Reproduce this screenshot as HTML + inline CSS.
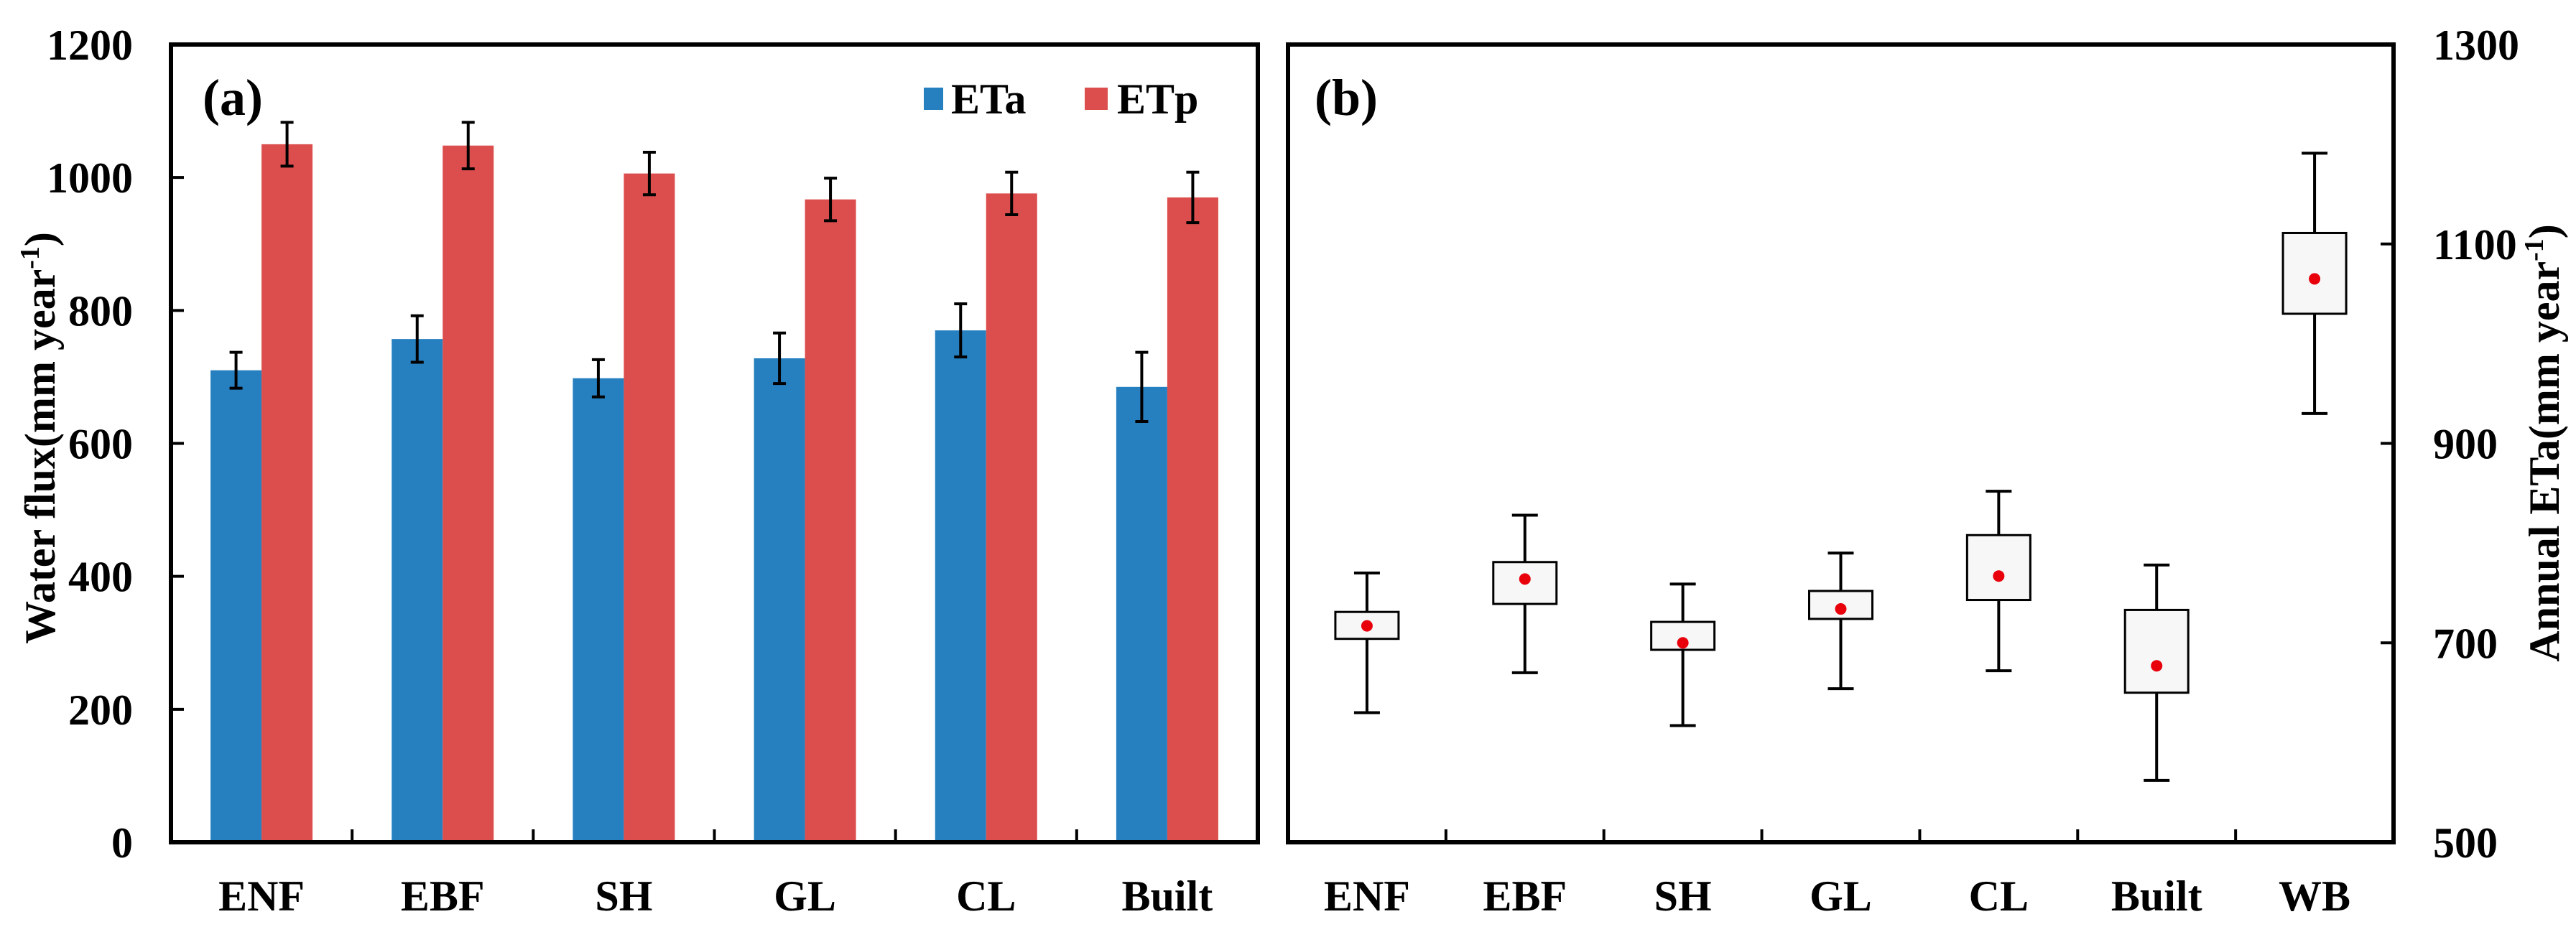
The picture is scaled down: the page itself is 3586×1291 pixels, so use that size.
<!DOCTYPE html>
<html><head><meta charset="utf-8"><style>
html,body{margin:0;padding:0;background:#fff;}
svg{display:block;}
svg text{font-family:"Liberation Serif","Times New Roman","DejaVu Serif",serif !important;font-weight:bold;}
</style></head><body>
<svg id="chart" width="3586" height="1291" viewBox="0 0 3586 1291" xmlns="http://www.w3.org/2000/svg" font-family="Liberation Serif, serif" font-weight="bold">
<g id="pa"></g>
<g id="pb"></g>
</svg>
<script>
const categoriesA = ["ENF","EBF","SH","GL","CL","Built"];
const etaValues = [710,757,698,728,770,685];
const etaErrors = [27,35,28,38,40,52];
const etpValues = [1050,1048,1006,967,976,970];
const etpErrors = [33,35,32,32,32,38];
const ticksA = [0,200,400,600,800,1000,1200];

const categoriesB = ["ENF","EBF","SH","GL","CL","Built","WB"];
const whiskerHigh = [770,828,759,790,852,778,1191];
const boxTop = [731,781,721,752,808,733,1111];
const boxBottom = [704,739,693,724,743,650,1030];
const meanVals = [717,764,700,734,767,677,1065];
const whiskerLow = [630,670,617,654,672,562,930];
const ticksB = [500,700,900,1100,1300];

const NS="http://www.w3.org/2000/svg";
function mk(parent,tag,attrs,text){const e=document.createElementNS(NS,tag);for(const k in attrs)e.setAttribute(k,attrs[k]);if(tag==='text')e.setAttribute('font-family','Liberation Serif, serif');if(text!==undefined)e.textContent=text;parent.appendChild(e);return e;}

// Panel A
const pa=document.getElementById('pa');
const A={l:238,r:1751,t:62,b:1173,min:0,max:1200};
const yA=v=>A.b-(v-A.min)/(A.max-A.min)*(A.b-A.t);
const cw=(A.r-A.l)/categoriesA.length;
const xA=i=>A.l+cw*(i+0.5);
const bw=71;
categoriesA.forEach((c,i)=>{
  const cx=xA(i);
  let r=mk(pa,'rect',{x:cx-bw,y:yA(etaValues[i]),width:bw,height:yA(0)-yA(etaValues[i]),fill:'#2680c0'});
  
  
  r=mk(pa,'rect',{x:cx,y:yA(etpValues[i]),width:bw,height:yA(0)-yA(etpValues[i]),fill:'#dc4e4d'});
  
  
  [[cx-bw/2,etaValues[i],etaErrors[i],'eta'],[cx+bw/2,etpValues[i],etpErrors[i],'etp']].forEach(([x,v,e,n])=>{
    const g=mk(pa,'g',{stroke:'#000','stroke-width':4});
    
    
    mk(g,'line',{x1:x,x2:x,y1:yA(v+e),y2:yA(v-e)});
    mk(g,'line',{x1:x-9,x2:x+9,y1:yA(v+e),y2:yA(v+e)});
    mk(g,'line',{x1:x-9,x2:x+9,y1:yA(v-e),y2:yA(v-e)});
  });
  const t=mk(pa,'text',{x:cx,y:1268,'font-size':60,'text-anchor':'middle'},c);
  
  
  if(i>0){const tk=mk(pa,'line',{x1:A.l+cw*i,x2:A.l+cw*i,y1:A.b,y2:A.b-18,stroke:'#000','stroke-width':4});
    
    }
});
ticksA.forEach(v=>{
  const t=mk(pa,'text',{x:185,y:yA(v)+21,'font-size':60,'text-anchor':'end'},String(v));
  
  
  if(v>0&&v<1200){const tk=mk(pa,'line',{x1:A.l,x2:A.l+18,y1:yA(v),y2:yA(v),stroke:'#000','stroke-width':4});
    
    }
});
let fr=mk(pa,'rect',{x:A.l,y:A.t,width:A.r-A.l,height:A.b-A.t,fill:'none',stroke:'#000','stroke-width':6});


let tt=mk(pa,'text',{x:282,y:160,'font-size':72},'(a)');


let yt=mk(pa,'text',{transform:'translate(76,610) rotate(-90)','font-size':60,'text-anchor':'middle'});


yt.innerHTML='Water flux(mm year<tspan font-size="38" dy="-22">-1</tspan><tspan dy="22">)</tspan>';
let lg=mk(pa,'g',{});


let le=mk(lg,'g',{});


mk(le,'rect',{x:1286,y:122,width:27,height:31,fill:'#2680c0'});
mk(le,'text',{x:1324,y:158,'font-size':60},'ETa');
let le2=mk(lg,'g',{});


mk(le2,'rect',{x:1510,y:122,width:32,height:31,fill:'#dc4e4d'});
mk(le2,'text',{x:1555,y:158,'font-size':60},'ETp');

// Panel B
const pb=document.getElementById('pb');
const B={l:1793,r:3332,t:62,b:1173,min:500,max:1300};
const yB=v=>B.b-(v-B.min)/(B.max-B.min)*(B.b-B.t);
const cwb=(B.r-B.l)/categoriesB.length;
const xB=i=>B.l+cwb*(i+0.5);
categoriesB.forEach((c,i)=>{
  const cx=xB(i);
  const g=mk(pb,'g',{stroke:'#000','stroke-width':4});
  
  
  mk(g,'line',{x1:cx,x2:cx,y1:yB(whiskerHigh[i]),y2:yB(boxTop[i])});
  mk(g,'line',{x1:cx,x2:cx,y1:yB(boxBottom[i]),y2:yB(whiskerLow[i])});
  mk(g,'line',{x1:cx-18,x2:cx+18,y1:yB(whiskerHigh[i]),y2:yB(whiskerHigh[i])});
  mk(g,'line',{x1:cx-18,x2:cx+18,y1:yB(whiskerLow[i]),y2:yB(whiskerLow[i])});
  mk(g,'rect',{x:cx-44,y:yB(boxTop[i]),width:88,height:yB(boxBottom[i])-yB(boxTop[i]),fill:'#f7f7f7','stroke-width':3});
  const m=mk(pb,'circle',{cx:cx,cy:yB(meanVals[i]),r:8,fill:'#e8000b'});
  
  
  const t=mk(pb,'text',{x:cx,y:1268,'font-size':60,'text-anchor':'middle'},c);
  
  
  if(i>0){const tk=mk(pb,'line',{x1:B.l+cwb*i,x2:B.l+cwb*i,y1:B.b,y2:B.b-18,stroke:'#000','stroke-width':4});
    
    }
});
ticksB.forEach(v=>{
  const t=mk(pb,'text',{x:3387,y:yB(v)+21,'font-size':60},String(v));
  
  
  if(v>500&&v<1300){const tk=mk(pb,'line',{x1:B.r,x2:B.r-18,y1:yB(v),y2:yB(v),stroke:'#000','stroke-width':4});
    
    }
});
fr=mk(pb,'rect',{x:B.l,y:B.t,width:B.r-B.l,height:B.b-B.t,fill:'none',stroke:'#000','stroke-width':6});


tt=mk(pb,'text',{x:1830,y:160,'font-size':72},'(b)');


yt=mk(pb,'text',{transform:'translate(3562,617) rotate(-90)','font-size':60,'text-anchor':'middle'});


yt.innerHTML='Annual ETa(mm year<tspan font-size="38" dy="-22">-1</tspan><tspan dy="22">)</tspan>';
</script>
</body></html>
